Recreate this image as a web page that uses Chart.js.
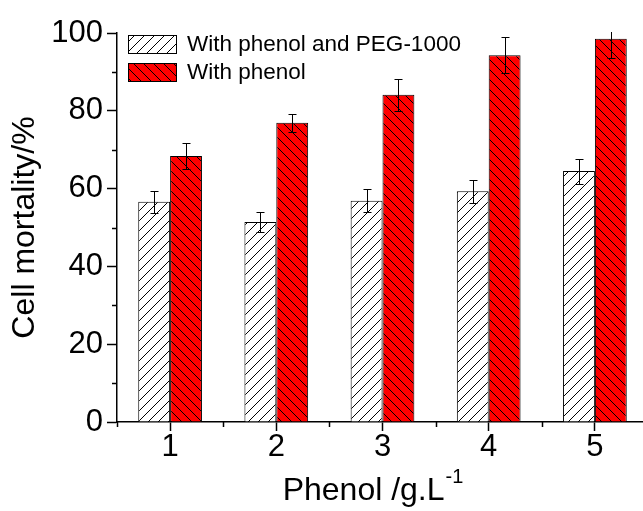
<!DOCTYPE html>
<html>
<head>
<meta charset="utf-8">
<script src="https://cdn.jsdelivr.net/npm/chart.js@4/dist/chart.umd.min.js"></script>
<style>
  html, body { margin: 0; padding: 0; background: #fff; overflow: hidden; }
  #wrap { width: 660px; height: 511px; }
</style>
</head>
<body>
<div id="wrap"><canvas id="chart" width="660" height="511"></canvas></div>
<script>
const categories = ["1", "2", "3", "4", "5"];
const pegValues = [56.6, 51.4, 56.9, 59.3, 64.5];
const pegErrors = [2.8, 2.6, 2.9, 2.9, 3.2];
const phenolValues = [68.4, 76.9, 84.1, 94.3, 98.5];
const phenolErrors = [3.4, 2.3, 4.1, 4.7, 4.9];
const seriesLabels = ["With phenol and PEG-1000", "With phenol"];
const yMinorTicks = [10, 30, 50, 70, 90];

const FONT = '"Liberation Sans", Arial, sans-serif';

// tratteggio per le barre
function creaPattern(sfondo, direzione) {
  const s = 10;
  const c = document.createElement("canvas");
  c.width = s;
  c.height = s;
  const g = c.getContext("2d");
  g.fillStyle = sfondo;
  g.fillRect(0, 0, s, s);
  g.strokeStyle = "#000";
  g.lineWidth = 1;
  g.beginPath();
  if (direzione === "/") {
    g.moveTo(-1, s + 1); g.lineTo(s + 1, -1);
    g.moveTo(-1, 1); g.lineTo(1, -1);
    g.moveTo(s - 1, s + 1); g.lineTo(s + 1, s - 1);
  } else {
    g.moveTo(-1, -1); g.lineTo(s + 1, s + 1);
    g.moveTo(s - 1, -1); g.lineTo(s + 1, 1);
    g.moveTo(-1, s - 1); g.lineTo(1, s + 1);
  }
  g.stroke();
  return g.createPattern(c, "repeat");
}

const patternBianco = creaPattern("#ffffff", "/");
const patternRosso = creaPattern("#ff0000", "\\");

const errori = [pegErrors, phenolErrors];

const erroriPlugin = {
  id: "erroriPlugin",
  afterDatasetsDraw(chart) {
    const ctx = chart.ctx;
    const y = chart.scales.y;
    const area = chart.chartArea;
    ctx.save();
    ctx.beginPath();
    ctx.rect(area.left, area.top - 1, area.right - area.left, area.bottom - area.top + 1);
    ctx.clip();
    ctx.strokeStyle = "#000";
    ctx.lineWidth = 1;
    chart.data.datasets.forEach((ds, i) => {
      const meta = chart.getDatasetMeta(i);
      meta.data.forEach((bar, j) => {
        const v = ds.data[j];
        const e = errori[i][j];
        const x = Math.round(bar.x) + 0.5;
        const yTop = Math.round(y.getPixelForValue(v + e)) + 0.5;
        const yBot = Math.round(y.getPixelForValue(v - e)) + 0.5;
        ctx.beginPath();
        ctx.moveTo(x, yTop); ctx.lineTo(x, yBot);
        ctx.moveTo(x - 4, yTop); ctx.lineTo(x + 4, yTop);
        ctx.moveTo(x - 4, yBot); ctx.lineTo(x + 4, yBot);
        ctx.stroke();
      });
    });
    ctx.restore();
  }
};

const decorazioniPlugin = {
  id: "decorazioniPlugin",
  afterDraw(chart) {
    const ctx = chart.ctx;
    const x = chart.scales.x;
    const y = chart.scales.y;
    const area = chart.chartArea;
    ctx.save();
    ctx.strokeStyle = "#000";
    ctx.lineWidth = 1.5;

    // tacche minori asse y
    ctx.beginPath();
    yMinorTicks.forEach(v => {
      const py = Math.round(y.getPixelForValue(v)) + 0.5;
      ctx.moveTo(area.left - 5, py);
      ctx.lineTo(area.left, py);
    });
    // tacche minori asse x (fra le categorie)
    const passo = x.getPixelForValue(1) - x.getPixelForValue(0);
    for (let i = 0; i <= categories.length; i++) {
      const px = Math.round(x.getPixelForValue(i) - passo / 2) + 0.5;
      ctx.moveTo(px, area.bottom);
      ctx.lineTo(px, area.bottom + 5);
    }
    ctx.stroke();

    // legenda
    const lx = area.left + 11;
    const ly = area.top + 2;
    const patterns = [patternBianco, patternRosso];
    ctx.font = "22.5px " + FONT;
    ctx.textBaseline = "middle";
    ctx.fillStyle = "#000";
    seriesLabels.forEach((testo, i) => {
      const top = ly + i * 28;
      ctx.fillStyle = patterns[i];
      ctx.fillRect(lx, top, 49, 19);
      ctx.lineWidth = 1;
      ctx.strokeRect(lx + 0.5, top + 0.5, 48, 18);
      ctx.fillStyle = "#000";
      ctx.fillText(testo, lx + 59, top + 10);
    });

    // titolo asse x con apice
    const principale = "Phenol /g.L";
    const apice = "-1";
    ctx.font = "32px " + FONT;
    const w1 = ctx.measureText(principale).width;
    ctx.font = "20px " + FONT;
    const w2 = ctx.measureText(apice).width;
    const cx = (area.left + area.right) / 2 - 10;
    const x0 = cx - (w1 + w2) / 2;
    ctx.textBaseline = "alphabetic";
    ctx.font = "32px " + FONT;
    ctx.fillText(principale, x0, chart.height - 11);
    ctx.font = "20px " + FONT;
    ctx.fillText(apice, x0 + w1 + 1, chart.height - 28);
    ctx.restore();
  }
};

new Chart(document.getElementById("chart"), {
  type: "bar",
  data: {
    labels: categories,
    datasets: [
      {
        label: seriesLabels[0],
        data: pegValues,
        backgroundColor: patternBianco,
        borderColor: "#000",
        borderWidth: 1,
        barPercentage: 1,
        categoryPercentage: 0.6
      },
      {
        label: seriesLabels[1],
        data: phenolValues,
        backgroundColor: patternRosso,
        borderColor: "#000",
        borderWidth: 1,
        barPercentage: 1,
        categoryPercentage: 0.6
      }
    ]
  },
  options: {
    responsive: false,
    devicePixelRatio: 1,
    animation: false,
    layout: {
      padding: { top: 33, right: 12, left: 0, bottom: 0 }
    },
    plugins: {
      legend: { display: false },
      tooltip: { enabled: false }
    },
    scales: {
      x: {
        offset: true,
        grid: {
          offset: false,
          drawOnChartArea: false,
          drawTicks: true,
          tickLength: 9,
          tickColor: "#000",
          tickWidth: 1.5
        },
        border: { display: true, color: "#000", width: 1.5 },
        ticks: {
          color: "#000",
          font: { family: FONT, size: 31 },
          padding: -2
        },
        afterFit(scale) {
          scale.height = 89;
        }
      },
      y: {
        min: 0,
        max: 100,
        grid: {
          drawOnChartArea: false,
          drawTicks: true,
          tickLength: 10,
          tickColor: "#000",
          tickWidth: 1.5
        },
        border: { display: true, color: "#000", width: 1.5 },
        ticks: {
          stepSize: 20,
          color: "#000",
          font: { family: FONT, size: 31 },
          padding: 4
        },
        title: {
          display: true,
          text: "Cell mortality/%",
          color: "#000",
          font: { family: FONT, size: 32 },
          padding: { top: 6, bottom: 0 }
        },
        afterFit(scale) {
          scale.width = 117;
        }
      }
    }
  },
  plugins: [erroriPlugin, decorazioniPlugin]
});
</script>
</body>
</html>
